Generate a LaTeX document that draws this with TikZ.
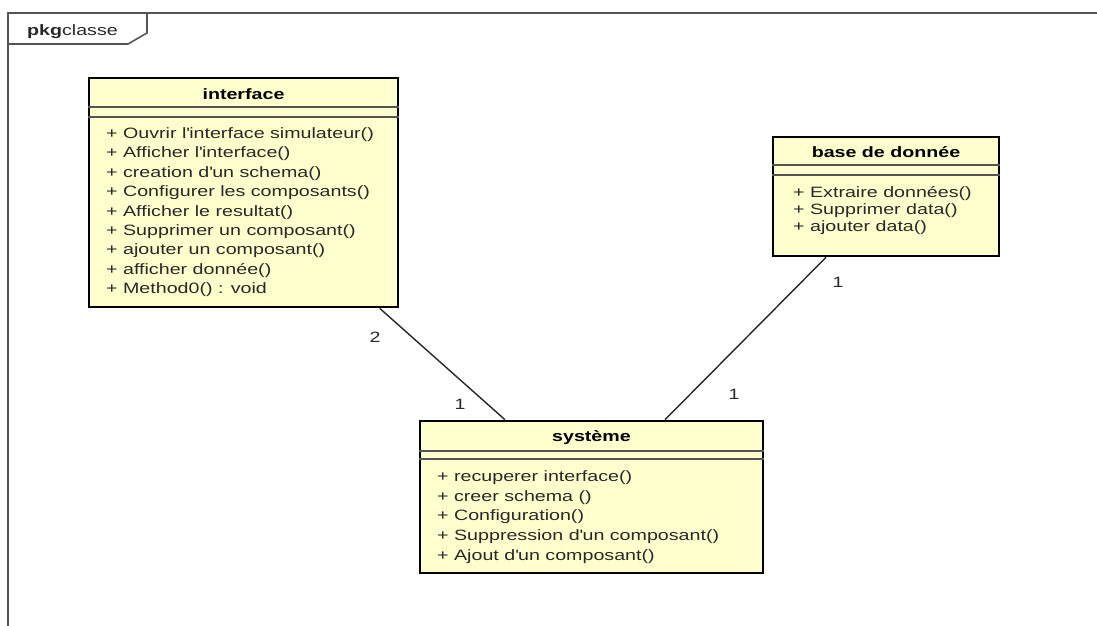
\documentclass[tikz,border=0pt]{standalone}
\usepackage{fontspec}
\setmainfont{Liberation Sans}[FakeStretch=1.31]
\usetikzlibrary{positioning}

\definecolor{classfill}{RGB}{255,255,206}
\definecolor{framegray}{RGB}{85,85,85}
\definecolor{txtgray}{RGB}{40,40,40}

\tikzset{
  classbox/.style={draw=black, line width=2.6pt, fill=classfill, inner sep=0pt},
  sepline/.style={draw=framegray, line width=1.6pt},
  frameline/.style={draw=framegray, line width=1.6pt},
  ctitle/.style={font=\fontsize{15}{18}\selectfont\bfseries, inner sep=0pt, text height=12pt, text depth=3pt},
  meth/.style={font=\fontsize{15}{18}\selectfont, text=txtgray, anchor=west, inner sep=0pt, text height=12pt, text depth=3pt},
  assoc/.style={draw=black!85, line width=1.4pt},
  mult/.style={font=\fontsize{15}{18}\selectfont, text=txtgray, inner sep=0pt, text height=12pt, text depth=3pt},
}
\newcommand{\ap}{\textquotesingle}

\begin{document}
\begin{tikzpicture}[x=1pt, y=-1pt]
    \useasboundingbox (0,0) rectangle (1097,625);
    % package frame
    \draw[frameline] (8,630) -- (8,13) -- (1100,13);
    \draw[frameline] (147,13) -- (147,33) -- (128,44) -- (8,44);
    \node[meth] (pkg) at (27,31) {\textbf{pkg}classe};

    % classes
    \node[classbox, minimum width=309pt, minimum height=229pt] (iface) at (243.5,192.5) {};
    \node[classbox, minimum width=226pt, minimum height=119pt] (base) at (886,196.5) {};
    \node[classbox, minimum width=343pt, minimum height=152pt] (sys) at (591.5,497) {};

    \draw[sepline] ([yshift=-30pt]iface.north west) -- ([yshift=-30pt]iface.north east);
    \draw[sepline] ([yshift=-40pt]iface.north west) -- ([yshift=-40pt]iface.north east);
    \draw[sepline] ([yshift=-29pt]base.north west) -- ([yshift=-29pt]base.north east);
    \draw[sepline] ([yshift=-39pt]base.north west) -- ([yshift=-39pt]base.north east);
    \draw[sepline] ([yshift=-31pt]sys.north west) -- ([yshift=-31pt]sys.north east);
    \draw[sepline] ([yshift=-39pt]sys.north west) -- ([yshift=-39pt]sys.north east);

    \node[ctitle] (iftitle) at (243.5,95) {interface};
    \node[ctitle] (basetitle) at (886,153) {base de donnée};
    \node[ctitle] (systitle) at (591.5,437) {système};

    \foreach \m [count=\i from 0] in {+ Ouvrir l\ap interface simulateur(), + Afficher l\ap interface(),
        + creation d\ap un schema(), + Configurer les composants(), + Afficher le resultat(),
        + Supprimer un composant(), + ajouter un composant(), + afficher donnée(), + Method0() : void}
        \node[meth] (ifm\i) at (106,{134+19.4*\i}) {\m};

    \foreach \m [count=\i from 0] in {+ Extraire données(), + Supprimer data(), + ajouter data()}
        \node[meth] (basem\i) at (793,{193+17*\i}) {\m};

    \foreach \m [count=\i from 0] in {+ recuperer interface(), + creer schema (), + Configuration(),
        + Suppression d\ap un composant(), + Ajout d\ap un composant()}
        \node[meth] (sysm\i) at (437,{477+19.7*\i}) {\m};

    % associations
    \draw[assoc] ([xshift=292pt]iface.south west) -- ([xshift=-86.5pt]sys.north);
    \draw[assoc] ([xshift=-60pt]base.south) -- ([xshift=73.5pt]sys.north);

    \node[mult] (m2) at (375,338) {2};
    \node[mult] (m1a) at (460,405) {1};
    \node[mult] (m1b) at (838,283) {1};
    \node[mult] (m1c) at (734,395) {1};
\end{tikzpicture}
\end{document}
